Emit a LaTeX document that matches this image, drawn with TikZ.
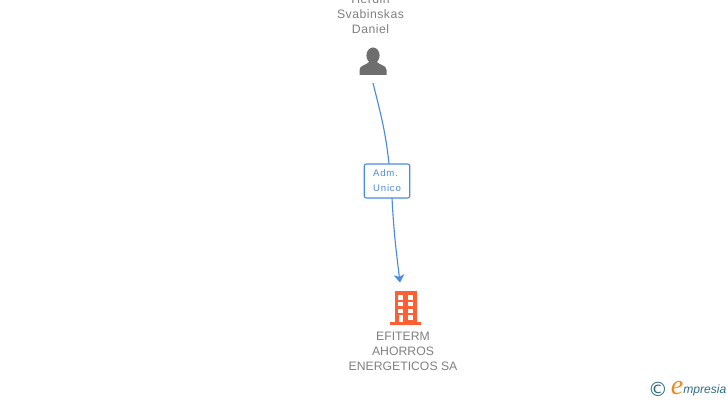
\documentclass[tikz,border=0pt]{standalone}
\usepackage{fontspec}
\setmainfont{Liberation Sans}
\usetikzlibrary{arrows.meta}
\definecolor{greytext}{HTML}{808080}
\definecolor{persongrey}{HTML}{6E6E6E}
\definecolor{linkblue}{HTML}{4A8AE6}
\definecolor{buildred}{HTML}{FF5F33}
\definecolor{logoteal}{HTML}{2E6E85}
\definecolor{logoorange}{HTML}{F08A1E}
\newfontfamily\logoserif{Liberation Serif}
\newfontfamily\logosymbol{DejaVu Sans}
\tikzset{
  nametext/.style={text=greytext, align=center, inner sep=0pt, font=\fontsize{8.7}{10.67}\selectfont},
  role/.style={draw=linkblue, fill=white, rounded corners=1.5pt, line width=0.8pt, text=linkblue,
    minimum width=32.4pt, minimum height=24.2pt, inner sep=0pt, align=left,
    font=\fontsize{6.8}{10.67}\selectfont\addfontfeature{LetterSpace=9}},
  link/.style={draw=linkblue, line width=0.8pt},
}
\begin{document}
\begin{tikzpicture}[x=0.025cm, y=-0.025cm]
\def\xp{373}
\def\xb{405}
\useasboundingbox (0,0) rectangle (728,400);

\begin{scope}
\clip (0,0) rectangle (728,400);
\node[nametext, font=\fontsize{8.7}{10.67}\selectfont\addfontfeature{LetterSpace=4}] (personname) at (\xp-2.5, 14) {Herdin\\Svabinskas\\Daniel};
\end{scope}

% person
\node[inner sep=0pt, minimum size=1pt] (person) at (\xp, 62) {};
\fill[persongrey] (\xp, 55.5) ellipse (6.6 and 8);
\fill[persongrey] (359.5, 75) -- (359.5, 70) .. controls (359.5, 65) and (366, 65.5) .. (369, 62)
  -- (377, 62) .. controls (380, 65.5) and (386.5, 65) .. (386.5, 70) -- (386.5, 75) -- cycle;

% building
\node[inner sep=0pt, minimum size=1pt] (building) at (\xb, 308) {};
\fill[buildred] (394.5, 291) rectangle (416.5, 322);
\fill[buildred] (390, 322) rectangle (421, 324.5);
\foreach \y in {295, 301.5, 308.5} {
  \fill[white] (397.5, \y) rectangle (403, \y+4.5);
  \fill[white] (407.5, \y) rectangle (413, \y+4.5);
}
\fill[white] (398.5, 315) rectangle (403, 322);
\fill[white] (407.5, 315) rectangle (413, 319.5);

\node[nametext] (buildingname) at (\xb-2, 351) {EFITERM\\AHORROS\\ENERGETICOS SA};

\coordinate (persondown) at (373, 83);
\coordinate (admin) at (389, 164);
\coordinate (admout) at (392, 198);
\coordinate (buildingup) at (400, 282.5);
\draw[link] (persondown) to [out=-76, in=96] (admin);
\draw[link, -{Stealth[length=5.5pt, width=7.5pt, inset=1.5pt]}] (admout) to [out=-87, in=97] (buildingup);
\node[role] (adm) at (387, 181) {Adm.\\Unico};

% logo
\node[inner sep=0pt, text=logoteal, font=\fontsize{14}{14}\selectfont] (logoc) at (658, 389) {\logosymbol ©};
\node[inner sep=0pt, text=logoorange, font=\fontsize{20}{20}\selectfont] (logoe) at (677, 388) {\logoserif\itshape e};
\node[inner sep=0pt, text=logoteal, font=\fontsize{8.6}{9}\selectfont\itshape, anchor=west] (logotext) at (683, 390) {mpresia};
\end{tikzpicture}
\end{document}
